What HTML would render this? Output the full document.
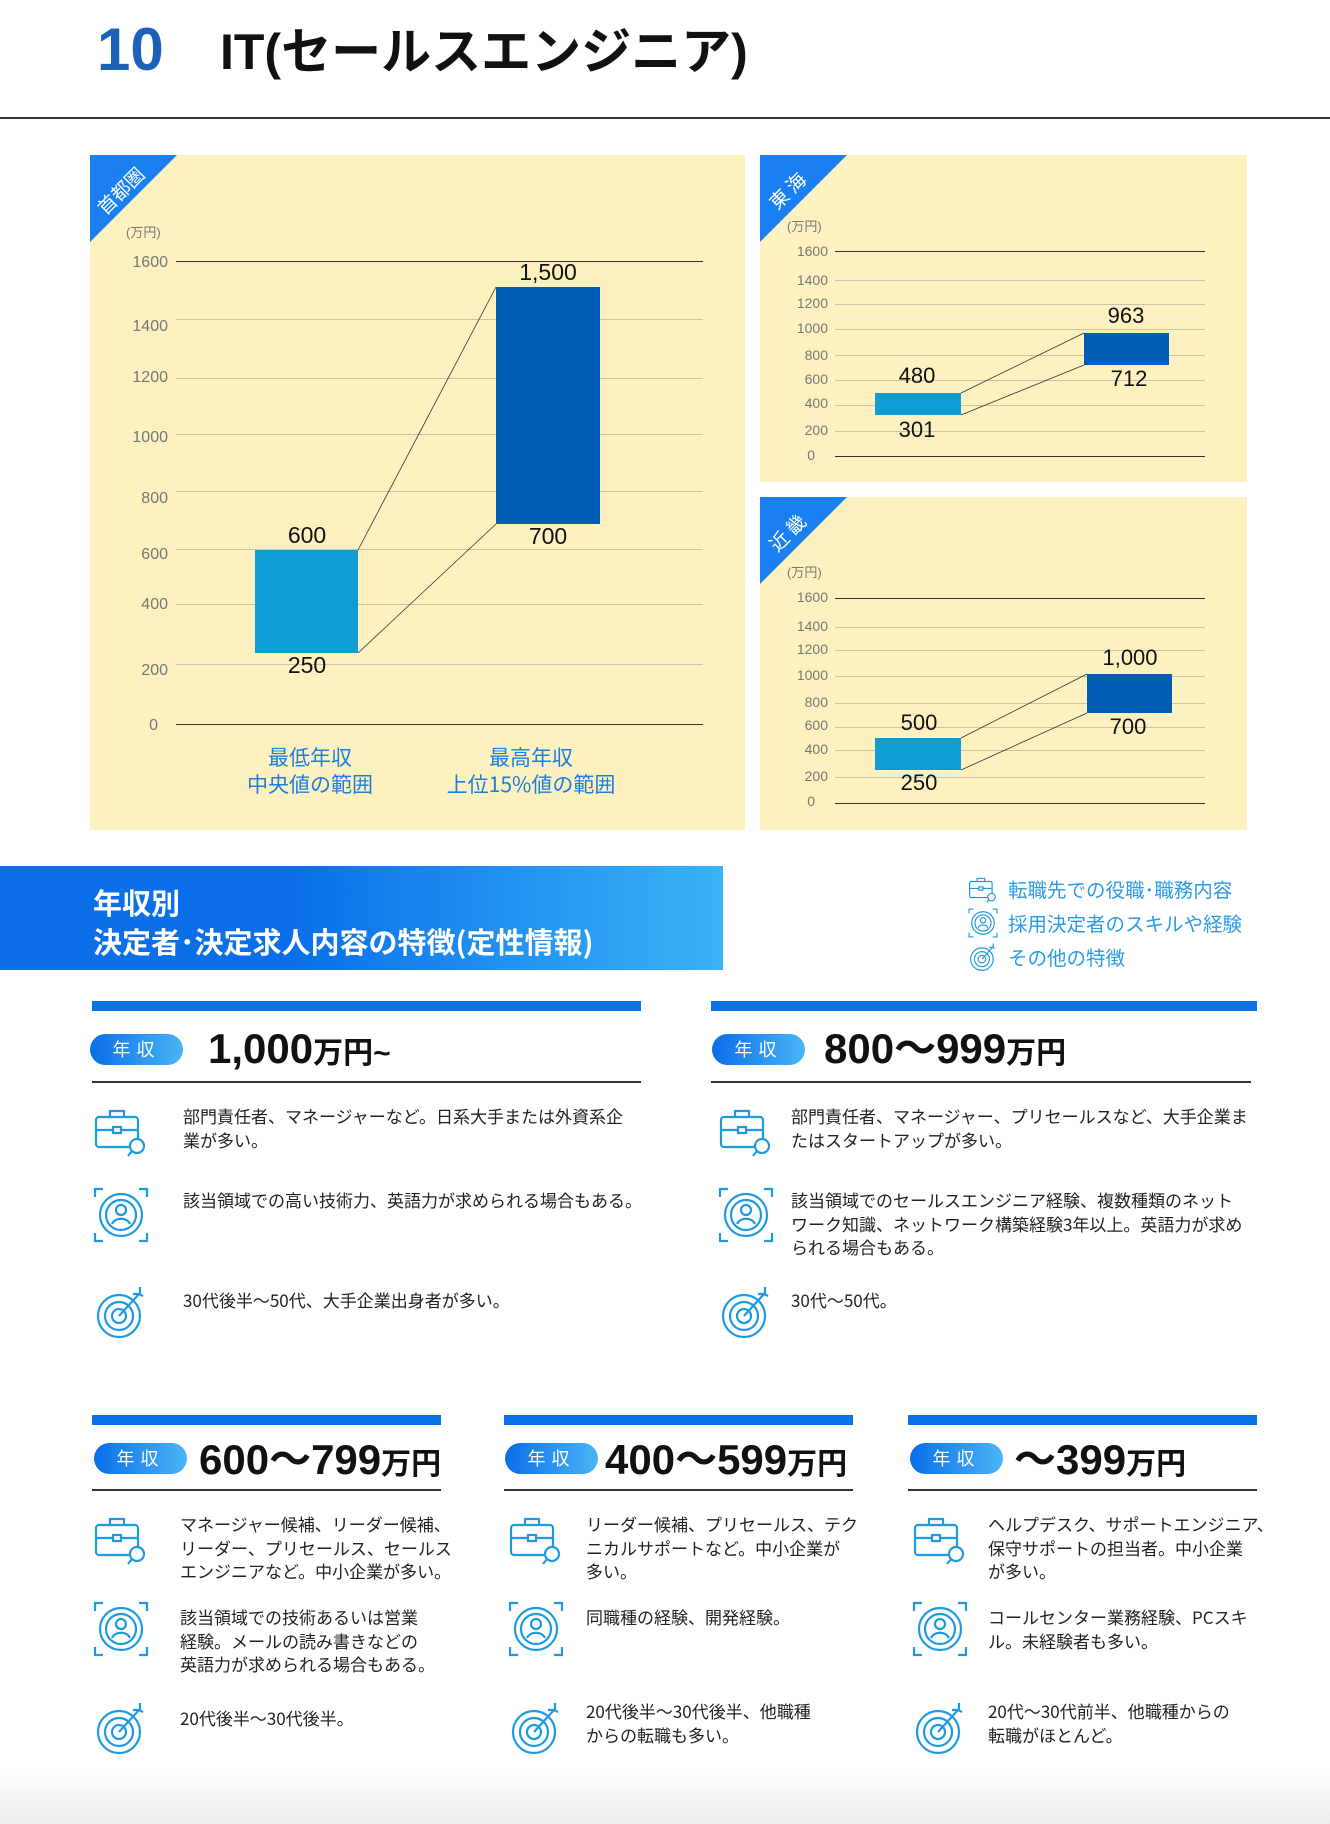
<!DOCTYPE html>
<html><head><meta charset="utf-8"><style>
*{margin:0;padding:0;box-sizing:border-box}
body{width:1330px;height:1824px;position:relative;background:#fff;font-family:"Liberation Sans","Noto Sans CJK JP",sans-serif;overflow:hidden}
.a{position:absolute;white-space:nowrap}
.jp{font-family:"Liberation Sans","Noto Sans CJK JP",sans-serif}
.nar{font-family:"Liberation Sans Narrow","Liberation Sans","Noto Sans CJK JP",sans-serif}
.panel{position:absolute;background:#fdf1bf;overflow:hidden}
.tri{position:absolute;left:0;top:0;width:0;height:0;border-top:87px solid #1a7ff0;border-right:87px solid transparent}
.trit{position:absolute;color:#fff;font-size:19px;transform:rotate(-45deg);font-family:"Noto Sans CJK JP",sans-serif}
.yl{position:absolute;text-align:right;color:#777;font-size:16px;font-family:"Liberation Sans Narrow","Liberation Sans",sans-serif}
.gl{position:absolute;height:1px;background:#c9c3ad}
.val{position:absolute;font-size:23px;color:#111;font-family:"Liberation Sans Narrow","Liberation Sans",sans-serif;transform:translateX(-50%)}
.bar{position:absolute;height:10px;background:#0b72ea}
.pill{position:absolute;width:93px;height:31px;border-radius:16px;background:linear-gradient(90deg,#0a6fe8,#4ab4f6);color:#fff;font-size:18px;text-align:center;line-height:31px;letter-spacing:6px;font-family:"Noto Sans CJK JP",sans-serif}
.hd{position:absolute;font-weight:bold;color:#111;font-family:"Liberation Sans Narrow","Liberation Sans","Noto Sans CJK JP",sans-serif;font-size:42px;line-height:44px}
.hd small{font-size:30px}
.ul{position:absolute;height:1.5px;background:#333}
.tx{position:absolute;font-size:17px;line-height:23.5px;color:#222;white-space:nowrap;font-family:"Noto Sans CJK JP",sans-serif}
.ic{position:absolute;width:56px;height:56px}
</style></head><body>
<svg width="0" height="0" style="position:absolute">
<defs>
<symbol id="bag" viewBox="0 0 56 56"><g fill="none" stroke="#1e9be0" stroke-width="2.2"><rect x="3" y="14" width="42" height="30" rx="3"/><path d="M17 14v-6h14v6M3 27h42"/><rect x="20" y="24" width="8" height="6" fill="#fff"/><circle cx="44" cy="43" r="7" fill="#fff"/><path d="M39 48l-4 5"/></g></symbol>
<symbol id="per" viewBox="0 0 56 56"><g fill="none" stroke="#1e9be0" stroke-width="2.2"><circle cx="28" cy="28" r="21"/><circle cx="28" cy="28" r="15"/><circle cx="28" cy="23" r="5"/><path d="M19 37c3-7 15-7 18 0"/><path d="M2 10V2h8M46 2h8v8M54 46v8h-8M10 54H2v-8"/></g></symbol>
<symbol id="tgt" viewBox="0 0 56 56"><g fill="none" stroke="#1e9be0" stroke-width="2.2"><circle cx="26" cy="32" r="21"/><circle cx="26" cy="32" r="14"/><circle cx="26" cy="32" r="7"/><path d="M26 32L46 10M40 10h7v-7M46 10l4 2"/></g></symbol>
</defs></svg>

<div class="a nar" style="left:97px;top:18px;font-size:60px;color:#1b62b8;font-weight:bold;line-height:64px">10</div>
<div class="a" style="left:220px;top:22px;font-size:50px;color:#111;font-weight:bold;line-height:60px;font-family:'Liberation Sans','Noto Sans CJK JP',sans-serif">IT(セールスエンジニア)</div>
<div class="a" style="left:0;top:117px;width:1330px;height:1.5px;background:#333"></div>

<div class="panel" style="left:90px;top:155px;width:655px;height:675px">
<div class="tri"></div><div class="trit" style="left:2px;top:22px">首都圏</div>
<div class="yl jp" style="left:36px;top:67px;font-size:13px">(万円)</div>
</div>
<div class="panel" style="left:760px;top:155px;width:487px;height:327px">
<div class="tri"></div><div class="trit" style="left:6px;top:22px">東 海</div>
<div class="yl jp" style="left:27px;top:61px;font-size:13px">(万円)</div>
</div>
<div class="panel" style="left:760px;top:497px;width:487px;height:333px">
<div class="tri"></div><div class="trit" style="left:6px;top:22px">近 畿</div>
<div class="yl jp" style="left:27px;top:65px;font-size:13px">(万円)</div>
</div>

<div class="gl" style="left:176px;top:261px;width:527px;background:#333"></div>
<div class="gl" style="left:176px;top:319px;width:527px"></div>
<div class="gl" style="left:176px;top:378px;width:527px"></div>
<div class="gl" style="left:176px;top:434px;width:527px"></div>
<div class="gl" style="left:176px;top:491px;width:527px"></div>
<div class="gl" style="left:176px;top:549px;width:527px"></div>
<div class="gl" style="left:176px;top:604px;width:527px"></div>
<div class="gl" style="left:176px;top:664px;width:527px"></div>
<div class="gl" style="left:176px;top:724px;width:527px;background:#333"></div>
<div class="yl" style="left:118px;width:50px;top:254px">1600</div>
<div class="yl" style="left:118px;width:50px;top:318px">1400</div>
<div class="yl" style="left:118px;width:50px;top:369px">1200</div>
<div class="yl" style="left:118px;width:50px;top:429px">1000</div>
<div class="yl" style="left:118px;width:50px;top:490px">800</div>
<div class="yl" style="left:118px;width:50px;top:546px">600</div>
<div class="yl" style="left:118px;width:50px;top:596px">400</div>
<div class="yl" style="left:118px;width:50px;top:662px">200</div>
<div class="yl" style="left:118px;width:40px;top:717px">0</div>

<div class="gl" style="left:835px;top:251px;width:370px;background:#333"></div>
<div class="gl" style="left:835px;top:280px;width:370px"></div>
<div class="gl" style="left:835px;top:304px;width:370px"></div>
<div class="gl" style="left:835px;top:329px;width:370px"></div>
<div class="gl" style="left:835px;top:355px;width:370px"></div>
<div class="gl" style="left:835px;top:380px;width:370px"></div>
<div class="gl" style="left:835px;top:405px;width:370px"></div>
<div class="gl" style="left:835px;top:431px;width:370px"></div>
<div class="gl" style="left:835px;top:456px;width:370px;background:#333"></div>
<div class="yl" style="left:778px;width:50px;top:243px;font-size:14px">1600</div>
<div class="yl" style="left:778px;width:50px;top:272px;font-size:14px">1400</div>
<div class="yl" style="left:778px;width:50px;top:295px;font-size:14px">1200</div>
<div class="yl" style="left:778px;width:50px;top:320px;font-size:14px">1000</div>
<div class="yl" style="left:778px;width:50px;top:347px;font-size:14px">800</div>
<div class="yl" style="left:778px;width:50px;top:371px;font-size:14px">600</div>
<div class="yl" style="left:778px;width:50px;top:395px;font-size:14px">400</div>
<div class="yl" style="left:778px;width:50px;top:422px;font-size:14px">200</div>
<div class="yl" style="left:778px;width:37px;top:447px;font-size:14px">0</div>

<div class="gl" style="left:835px;top:598px;width:370px;background:#333"></div>
<div class="gl" style="left:835px;top:627px;width:370px"></div>
<div class="gl" style="left:835px;top:650px;width:370px"></div>
<div class="gl" style="left:835px;top:676px;width:370px"></div>
<div class="gl" style="left:835px;top:703px;width:370px"></div>
<div class="gl" style="left:835px;top:727px;width:370px"></div>
<div class="gl" style="left:835px;top:750px;width:370px"></div>
<div class="gl" style="left:835px;top:777px;width:370px"></div>
<div class="gl" style="left:835px;top:803px;width:370px;background:#333"></div>
<div class="yl" style="left:778px;width:50px;top:589px;font-size:14px">1600</div>
<div class="yl" style="left:778px;width:50px;top:618px;font-size:14px">1400</div>
<div class="yl" style="left:778px;width:50px;top:641px;font-size:14px">1200</div>
<div class="yl" style="left:778px;width:50px;top:667px;font-size:14px">1000</div>
<div class="yl" style="left:778px;width:50px;top:694px;font-size:14px">800</div>
<div class="yl" style="left:778px;width:50px;top:717px;font-size:14px">600</div>
<div class="yl" style="left:778px;width:50px;top:741px;font-size:14px">400</div>
<div class="yl" style="left:778px;width:50px;top:768px;font-size:14px">200</div>
<div class="yl" style="left:778px;width:37px;top:793px;font-size:14px">0</div>

<svg class="a" style="left:0;top:0" width="1330" height="840"><g stroke="#333" stroke-width="0.8"><line x1="358" y1="550" x2="496" y2="287"/><line x1="358" y1="653" x2="496" y2="524"/><line x1="961" y1="393" x2="1084" y2="333"/><line x1="961" y1="415" x2="1084" y2="365"/><line x1="961" y1="738" x2="1087" y2="674"/><line x1="961" y1="770" x2="1087" y2="713"/></g></svg>

<div class="a" style="left:255px;top:550px;width:103px;height:103px;background:#0f9dd3"></div>
<div class="a" style="left:496px;top:287px;width:104px;height:237px;background:#005db5"></div>
<div class="val" style="left:307px;top:522px">600</div>
<div class="val" style="left:307px;top:652px">250</div>
<div class="val" style="left:548px;top:259px">1,500</div>
<div class="val" style="left:548px;top:523px">700</div>
<div class="a" style="left:230px;top:744px;width:160px;text-align:center;color:#1a7fe0;font-size:21px;line-height:27px;font-family:'Noto Sans CJK JP',sans-serif">最低年収<br>中央値の範囲</div>
<div class="a" style="left:421px;top:744px;width:220px;text-align:center;color:#1a7fe0;font-size:21px;line-height:27px;font-family:'Noto Sans CJK JP',sans-serif">最高年収<br>上位15%値の範囲</div>

<div class="a" style="left:875px;top:393px;width:86px;height:22px;background:#0f9dd3"></div>
<div class="a" style="left:1084px;top:333px;width:85px;height:32px;background:#005db5"></div>
<div class="val" style="left:917px;top:363px;font-size:22px">480</div>
<div class="val" style="left:917px;top:417px;font-size:22px">301</div>
<div class="val" style="left:1126px;top:303px;font-size:22px">963</div>
<div class="val" style="left:1129px;top:366px;font-size:22px">712</div>

<div class="a" style="left:875px;top:738px;width:86px;height:32px;background:#0f9dd3"></div>
<div class="a" style="left:1087px;top:674px;width:85px;height:39px;background:#005db5"></div>
<div class="val" style="left:919px;top:710px;font-size:22px">500</div>
<div class="val" style="left:919px;top:770px;font-size:22px">250</div>
<div class="val" style="left:1130px;top:645px;font-size:22px">1,000</div>
<div class="val" style="left:1128px;top:714px;font-size:22px">700</div>

<div class="a" style="left:0;top:866px;width:723px;height:104px;background:linear-gradient(90deg,#0a6fe8 40%,#3ab3f7)"></div>
<div class="a" style="left:93px;top:883px;color:#fff;font-size:29px;line-height:39px;font-weight:bold;font-family:'Noto Sans CJK JP',sans-serif">年収別<br>決定者･決定求人内容の特徴(定性情報)</div>

<svg class="ic" style="left:968px;top:874px;width:30px;height:30px"><use href="#bag"/></svg>
<svg class="ic" style="left:968px;top:908px;width:30px;height:30px"><use href="#per"/></svg>
<svg class="ic" style="left:968px;top:942px;width:30px;height:30px"><use href="#tgt"/></svg>
<div class="a" style="left:1008px;top:872px;color:#2a9be8;font-size:19.5px;line-height:34px;font-family:'Noto Sans CJK JP',sans-serif">転職先での役職･職務内容<br>採用決定者のスキルや経験<br>その他の特徴</div>

<div class="bar" style="left:92px;top:1001px;width:549px"></div>
<div class="pill" style="left:90px;top:1034px">年収</div>
<div class="hd" style="left:208px;top:1027px">1,000<small>万円~</small></div>
<div class="ul" style="left:92px;top:1081px;width:549px"></div>
<svg class="ic" style="left:93px;top:1103px"><use href="#bag"/></svg>
<div class="tx" style="left:183px;top:1104px">部門責任者、マネージャーなど。日系大手または外資系企<br>業が多い。</div>
<svg class="ic" style="left:93px;top:1187px"><use href="#per"/></svg>
<div class="tx" style="left:183px;top:1188px">該当領域での高い技術力、英語力が求められる場合もある。</div>
<svg class="ic" style="left:93px;top:1284px"><use href="#tgt"/></svg>
<div class="tx" style="left:183px;top:1288px">30代後半～50代、大手企業出身者が多い。</div>

<div class="bar" style="left:711px;top:1001px;width:546px"></div>
<div class="pill" style="left:712px;top:1034px">年収</div>
<div class="hd" style="left:824px;top:1027px">800～999<small>万円</small></div>
<div class="ul" style="left:711px;top:1081px;width:540px"></div>
<svg class="ic" style="left:718px;top:1103px"><use href="#bag"/></svg>
<div class="tx" style="left:791px;top:1104px">部門責任者、マネージャー、プリセールスなど、大手企業ま<br>たはスタートアップが多い。</div>
<svg class="ic" style="left:718px;top:1187px"><use href="#per"/></svg>
<div class="tx" style="left:791px;top:1188px">該当領域でのセールスエンジニア経験、複数種類のネット<br>ワーク知識、ネットワーク構築経験3年以上。英語力が求め<br>られる場合もある。</div>
<svg class="ic" style="left:718px;top:1284px"><use href="#tgt"/></svg>
<div class="tx" style="left:791px;top:1288px">30代～50代。</div>

<div class="bar" style="left:92px;top:1415px;width:349px"></div>
<div class="pill" style="left:94px;top:1443px">年収</div>
<div class="hd" style="left:199px;top:1438px">600～799<small>万円</small></div>
<div class="ul" style="left:92px;top:1489px;width:349px"></div>
<svg class="ic" style="left:93px;top:1511px"><use href="#bag"/></svg>
<div class="tx" style="left:180px;top:1512px">マネージャー候補、リーダー候補、<br>リーダー、プリセールス、セールス<br>エンジニアなど。中小企業が多い。</div>
<svg class="ic" style="left:93px;top:1601px"><use href="#per"/></svg>
<div class="tx" style="left:180px;top:1605px">該当領域での技術あるいは営業<br>経験。メールの読み書きなどの<br>英語力が求められる場合もある。</div>
<svg class="ic" style="left:93px;top:1700px"><use href="#tgt"/></svg>
<div class="tx" style="left:180px;top:1706px">20代後半～30代後半。</div>

<div class="bar" style="left:504px;top:1415px;width:349px"></div>
<div class="pill" style="left:505px;top:1443px">年収</div>
<div class="hd" style="left:605px;top:1438px">400～599<small>万円</small></div>
<div class="ul" style="left:504px;top:1489px;width:349px"></div>
<svg class="ic" style="left:508px;top:1511px"><use href="#bag"/></svg>
<div class="tx" style="left:586px;top:1512px">リーダー候補、プリセールス、テク<br>ニカルサポートなど。中小企業が<br>多い。</div>
<svg class="ic" style="left:508px;top:1601px"><use href="#per"/></svg>
<div class="tx" style="left:586px;top:1605px">同職種の経験、開発経験。</div>
<svg class="ic" style="left:508px;top:1700px"><use href="#tgt"/></svg>
<div class="tx" style="left:586px;top:1699px">20代後半～30代後半、他職種<br>からの転職も多い。</div>

<div class="bar" style="left:908px;top:1415px;width:349px"></div>
<div class="pill" style="left:910px;top:1443px">年収</div>
<div class="hd" style="left:1014px;top:1438px">～399<small>万円</small></div>
<div class="ul" style="left:908px;top:1489px;width:349px"></div>
<svg class="ic" style="left:912px;top:1511px"><use href="#bag"/></svg>
<div class="tx" style="left:988px;top:1512px">ヘルプデスク、サポートエンジニア、<br>保守サポートの担当者。中小企業<br>が多い。</div>
<svg class="ic" style="left:912px;top:1601px"><use href="#per"/></svg>
<div class="tx" style="left:988px;top:1605px">コールセンター業務経験、PCスキ<br>ル。未経験者も多い。</div>
<svg class="ic" style="left:912px;top:1700px"><use href="#tgt"/></svg>
<div class="tx" style="left:988px;top:1699px">20代～30代前半、他職種からの<br>転職がほとんど。</div>

<div class="a" style="left:0;top:1770px;width:1330px;height:54px;background:linear-gradient(180deg,#fff,#ececec)"></div>
</body></html>
